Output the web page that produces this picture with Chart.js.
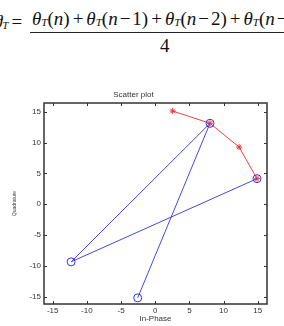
<!DOCTYPE html>
<html>
<head>
<meta charset="utf-8">
<script src="https://cdn.jsdelivr.net/npm/chart.js@4.4.1/dist/chart.umd.min.js"></script>
<style>
  html, body { margin:0; padding:0; background:#fff; width:284px; height:326px; overflow:hidden; position:relative; }
  .eq { position:absolute; font-family:"Liberation Serif", "Times New Roman", serif; font-size:19px; line-height:19px; white-space:nowrap; color:#111; }
  .eq i { font-style:italic; }
  .eq sub { font-size:11px; font-style:italic; vertical-align:baseline; position:relative; top:1px; }
  .eq .p { margin:0 3px; }
  .eq .m { margin:0 2px; }
  #bar { position:absolute; left:30px; top:32px; width:260px; height:1px; background:#222; }
  #wrap { position:absolute; left:0; top:60px; width:284px; height:266px; }
</style>
</head>
<body>
<div class="eq" style="left:-7px;top:12px"><i>ϑ</i><sub>T</sub><span class="p">=</span></div>
<div class="eq" style="left:32px;top:9px"><i>θ</i><sub>T</sub>(<i>n</i>)<span class="p">+</span><i>θ</i><sub>T</sub>(<i>n</i><span class="m">−</span>1)<span class="p">+</span><i>θ</i><sub>T</sub>(<i>n</i><span class="m">−</span>2)<span class="p">+</span><i>θ</i><sub>T</sub>(<i>n</i><span class="m">−</span></div>
<div id="bar"></div>
<div class="eq" style="left:160px;top:36px">4</div>
<div id="wrap"><canvas id="c" width="284" height="266"></canvas></div>
<script>
/* ── data ── */
const xTicks = [-15, -10, -5, 0, 5, 10, 15];
const yTicks = [-15, -10, -5, 0, 5, 10, 15];

const redX  = [2.56, 8.02, 12.27, 14.9];
const redY  = [15.15, 13.15, 9.3, 4.16];

const blueX = [-2.56, 8.02, -12.3, 14.9];
const blueY = [-15.2, 13.15, -9.35, 4.16];

const pts = (xs, ys) => xs.map((x, i) => ({ x, y: ys[i] }));

/* box frame with inward ticks on all four sides */
const framePlugin = {
    id: 'frame',
    afterDraw(chart) {
        const { ctx, chartArea: a, scales } = chart;
        const tl = 3;
        ctx.save();
        ctx.strokeStyle = '#333';
        ctx.lineWidth = 1.5;
        ctx.strokeRect(a.left, a.top, a.right - a.left, a.bottom - a.top);
        ctx.lineWidth = 1;
        ctx.beginPath();
        xTicks.forEach(v => {
            const px = Math.round(scales.x.getPixelForValue(v)) + 0.5;
            ctx.moveTo(px, a.bottom); ctx.lineTo(px, a.bottom - tl);
            ctx.moveTo(px, a.top);    ctx.lineTo(px, a.top + tl);
        });
        yTicks.forEach(v => {
            const py = Math.round(scales.y.getPixelForValue(v)) + 0.5;
            ctx.moveTo(a.left, py);  ctx.lineTo(a.left + tl, py);
            ctx.moveTo(a.right, py); ctx.lineTo(a.right - tl, py);
        });
        ctx.stroke();
        ctx.restore();
    }
};

const tickFont = { family: 'Liberation Sans', size: 8 };

new Chart(document.getElementById('c').getContext('2d'), {
    type: 'scatter',
    data: {
        datasets: [
            { label: 'rx', data: pts(blueX, blueY), showLine: true, borderColor: '#4848dd', borderWidth: 1,
              pointStyle: 'circle', pointRadius: 4, pointBorderColor: '#3333dd', pointBackgroundColor: 'rgba(0,0,0,0)', pointBorderWidth: 1 },
            { label: 'avg', data: pts(redX, redY), showLine: true, borderColor: '#ee4444', borderWidth: 1,
              pointStyle: 'star', pointRadius: 3, pointBorderColor: '#ee3333', pointBorderWidth: 1 }
        ]
    },
    options: {
        responsive: false,
        animation: false,
        layout: { padding: { left: 0, right: 17, top: 0, bottom: 0 } },
        plugins: {
            legend: { display: false },
            tooltip: { enabled: false },
            title: { display: true, text: 'Scatter plot', color: '#333', font: { family: 'Liberation Sans', size: 8, weight: 'normal' },
                     padding: { top: 30, bottom: 3.4 } }
        },
        scales: {
            x: {
                type: 'linear', min: -16.27, max: 16.36,
                grid: { display: false, drawTicks: false }, border: { display: false },
                ticks: { color: '#333', font: tickFont, padding: 2, maxRotation: 0 },
                afterBuildTicks: s => { s.ticks = xTicks.map(v => ({ value: v })); },
                afterFit: s => { s.height = 22; },
                title: { display: true, text: 'In-Phase', color: '#333', font: { family: 'Liberation Sans', size: 8 }, padding: { top: 0, bottom: 2.2 } }
            },
            y: {
                type: 'linear', min: -16.2, max: 16.45,
                grid: { display: false, drawTicks: false }, border: { display: false },
                ticks: { color: '#333', font: tickFont, padding: 3 },
                afterBuildTicks: s => { s.ticks = yTicks.map(v => ({ value: v })); },
                afterFit: s => { s.width = 44; },
                title: { display: true, text: 'Quadrature', color: '#444', font: { family: 'Liberation Sans', size: 5 }, padding: { top: 12, bottom: 0 } }
            }
        }
    },
    plugins: [framePlugin]
});
</script>
</body>
</html>
